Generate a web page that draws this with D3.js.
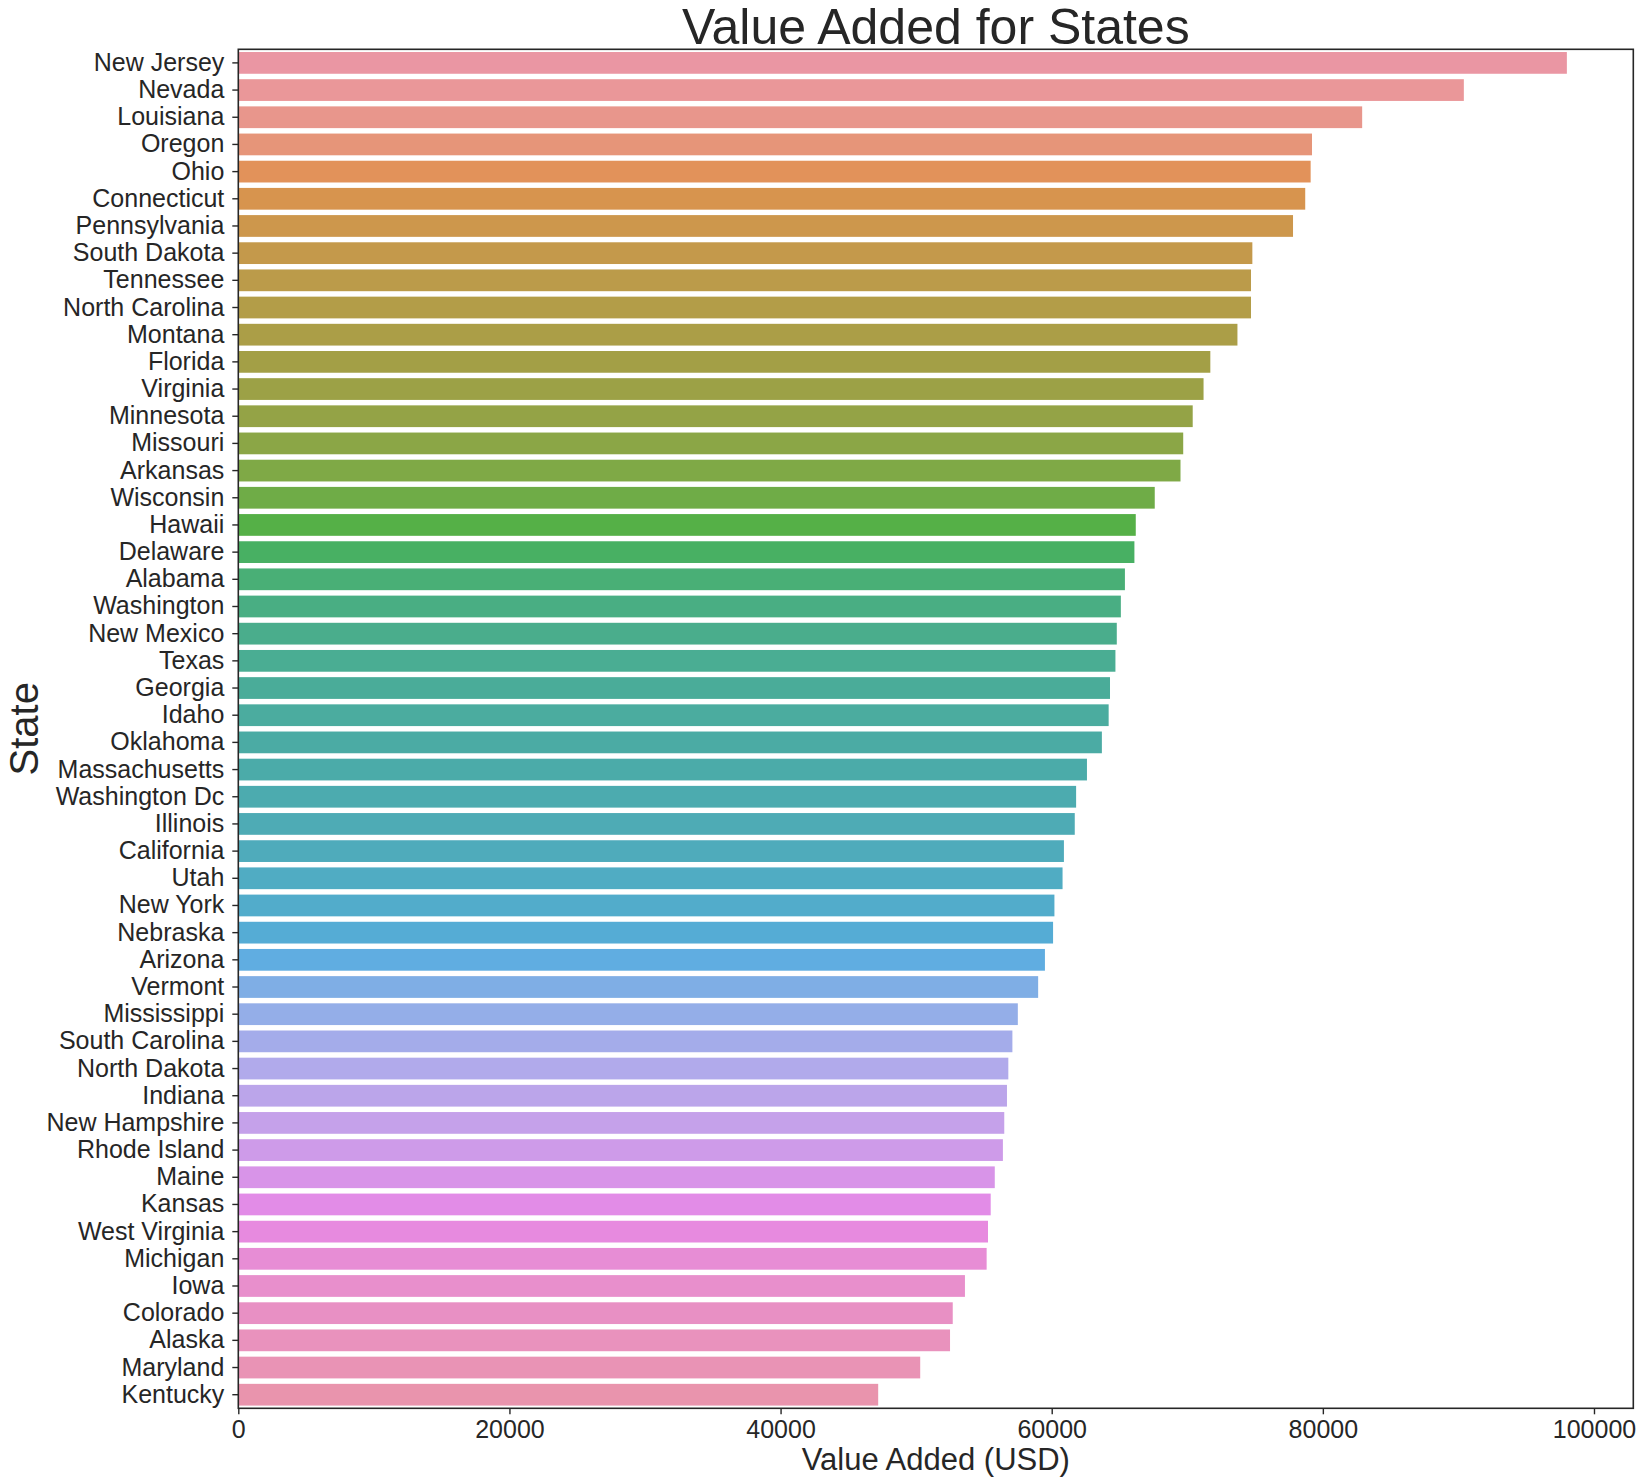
<!DOCTYPE html>
<html>
<head>
<meta charset="utf-8">
<script src="https://cdn.jsdelivr.net/npm/d3@7"></script>
<style>
  body { margin: 0; background: #fff; }
  text { font-family: "Liberation Sans", Arial, sans-serif; fill: #262626; }
</style>
</head>
<body>
<div id="chart"></div>
<script>

// States, top to bottom
let states = ["New Jersey", "Nevada", "Louisiana", "Oregon", "Ohio", "Connecticut",
    "Pennsylvania", "South Dakota", "Tennessee", "North Carolina", "Montana", "Florida",
    "Virginia", "Minnesota", "Missouri", "Arkansas", "Wisconsin", "Hawaii", "Delaware",
    "Alabama", "Washington", "New Mexico", "Texas", "Georgia", "Idaho", "Oklahoma",
    "Massachusetts", "Washington Dc", "Illinois", "California", "Utah", "New York",
    "Nebraska", "Arizona", "Vermont", "Mississippi", "South Carolina", "North Dakota",
    "Indiana", "New Hampshire", "Rhode Island", "Maine", "Kansas", "West Virginia",
    "Michigan", "Iowa", "Colorado", "Alaska", "Maryland", "Kentucky"];

// Value added (USD), same order as states
let valueAdded = [98000, 90400, 82900, 79200, 79100, 78700,
    77800, 74800, 74700, 74700, 73700, 71700,
    71200, 70400, 69700, 69500, 67600, 66200, 66100,
    65400, 65100, 64800, 64700, 64300, 64200, 63700,
    62600, 61800, 61700, 60900, 60800, 60200,
    60100, 59500, 59000, 57500, 57100, 56800,
    56700, 56500, 56400, 55800, 55500, 55300,
    55200, 53600, 52700, 52500, 50300, 47200];

// x tick values
let xTicks = [0, 20000, 40000, 60000, 80000, 100000];

// Size of the page and the plot box
let width = 1646, height = 1483;
let margin = {top: 49.3, right: 12.7, bottom: 74.7, left: 238.3};

// ---- husl colours, the way seaborn makes them ----
let M = [
    [3.240969941904521, -1.537383177570093, -0.498610760293],
    [-0.96924363628087, 1.87596750150772, 0.041555057407175],
    [0.055630079696993, -0.20397695888897, 1.056971514242878]
];
let refU = 0.19783000664283, refV = 0.46831999493879;
let kappa = 903.2962962, epsilon = 0.0088564516;

function getBounds(L) {
    let out = [];
    let sub1 = Math.pow(L + 16, 3) / 1560896;
    let sub2 = sub1 > epsilon ? sub1 : L / kappa;
    M.forEach(([m1, m2, m3]) => {
        [0, 1].forEach(t => {
            let top1 = (284517 * m1 - 94839 * m3) * sub2;
            let top2 = (838422 * m3 + 769860 * m2 + 731718 * m1) * L * sub2 - 769860 * t * L;
            let bottom = (632260 * m3 - 126452 * m2) * sub2 + 126452 * t;
            out.push([top1 / bottom, top2 / bottom]);
        });
    });
    return out;
}

function maxChroma(L, H) {
    let hrad = H / 360 * Math.PI * 2;
    let best = Infinity;
    getBounds(L).forEach(([slope, intercept]) => {
        let len = intercept / (Math.sin(hrad) - slope * Math.cos(hrad));
        if (len >= 0) best = Math.min(best, len);
    });
    return best;
}

function huslToRgb(H, S, L) {
    let C = maxChroma(L, H) / 100 * S;
    let hrad = H / 360 * Math.PI * 2;
    let U = Math.cos(hrad) * C, V = Math.sin(hrad) * C;
    let Y = L > 8 ? Math.pow((L + 16) / 116, 3) : L / kappa;
    let varU = U / (13 * L) + refU;
    let varV = V / (13 * L) + refV;
    let X = 0 - (9 * Y * varU) / ((varU - 4) * varV - varU * varV);
    let Z = (9 * Y - 15 * varV * Y - varV * X) / (3 * varV);
    return M.map(([a, b, c]) => {
        let v = a * X + b * Y + c * Z;
        v = v <= 0.0031308 ? 12.92 * v : 1.055 * Math.pow(v, 1 / 2.4) - 0.055;
        return Math.max(0, Math.min(1, v));
    });
}

// husl_palette(n, h=.01, s=.9, l=.7) then desaturate by .75
function barColor(i, n) {
    let hue = ((i / n) + 0.01) % 1 * 359;
    let rgb = huslToRgb(hue, 0.9 * 99, 0.7 * 99);
    let c = d3.hsl(d3.rgb(rgb[0] * 255, rgb[1] * 255, rgb[2] * 255));
    c.s = c.s * 0.75;
    return c.rgb().toString();
}

// ---- build the chart ----
let svg = d3.select("#chart").append("svg")
    .attr("width", width)
    .attr("height", height);

let innerW = width - margin.left - margin.right;
let innerH = height - margin.top - margin.bottom;

let g = svg.append("g")
    .attr("transform", `translate(${margin.left},${margin.top})`);

// Scales
let x = d3.scaleLinear()
    .domain([0, d3.max(valueAdded) * 1.05])
    .range([0, innerW]);

let y = d3.scaleBand()
    .domain(states)
    .range([0, innerH])
    .paddingInner(0.2)
    .paddingOuter(0.1);

// Bars
g.selectAll("rect.bar")
    .data(states)
    .join("rect")
    .attr("class", "bar")
    .attr("x", x(0))
    .attr("y", d => y(d))
    .attr("width", (d, i) => x(valueAdded[i]) - x(0))
    .attr("height", y.bandwidth())
    .attr("fill", (d, i) => barColor(i, states.length));

// x axis
let xAxis = g.append("g")
    .attr("transform", `translate(0,${innerH})`)
    .call(d3.axisBottom(x).tickValues(xTicks).tickFormat(d3.format("d")).tickSize(6).tickPadding(6));

// y axis
let yAxis = g.append("g")
    .call(d3.axisLeft(y).tickSize(6).tickPadding(8));

[xAxis, yAxis].forEach(ax => {
    ax.select(".domain").remove();
    ax.selectAll("line").attr("stroke", "#262626").attr("stroke-width", 1.4);
    ax.selectAll("text").style("font-size", "25px").attr("fill", "#262626");
});

// Frame around the plot
g.append("rect")
    .attr("x", 0)
    .attr("y", 0)
    .attr("width", innerW)
    .attr("height", innerH)
    .attr("fill", "none")
    .attr("stroke", "#262626")
    .attr("stroke-width", 1.6);

// Title
svg.append("text")
    .attr("x", margin.left + innerW / 2)
    .attr("y", 44)
    .attr("text-anchor", "middle")
    .style("font-size", "50px")
    .text("Value Added for States");

// x label
svg.append("text")
    .attr("x", margin.left + innerW / 2)
    .attr("y", 1470)
    .attr("text-anchor", "middle")
    .style("font-size", "31px")
    .text("Value Added (USD)");

// y label
svg.append("text")
    .attr("transform", `translate(38,${margin.top + innerH / 2}) rotate(-90)`)
    .attr("text-anchor", "middle")
    .style("font-size", "40px")
    .text("State");

</script>
</body>
</html>
